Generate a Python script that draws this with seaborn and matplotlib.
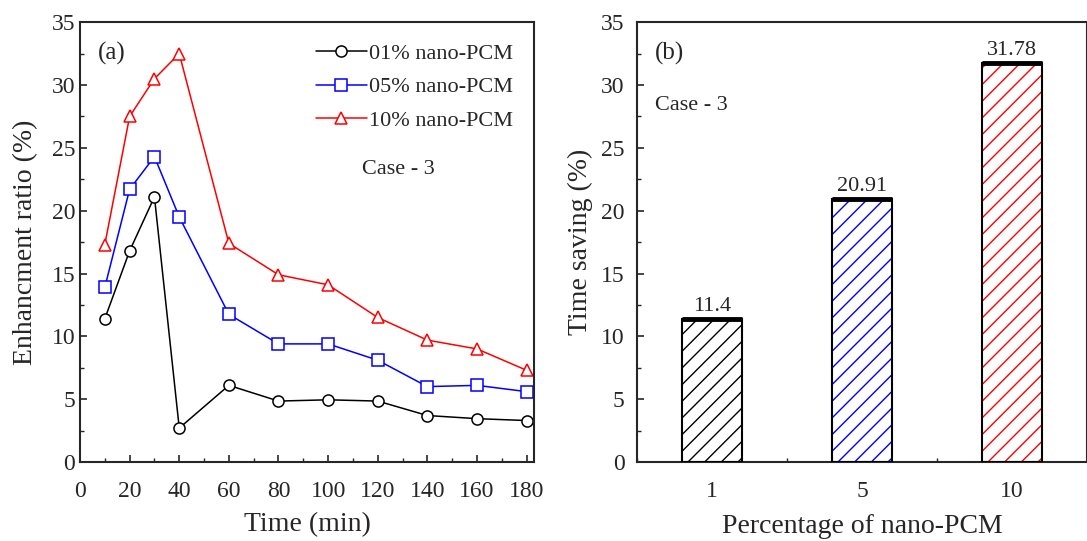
import numpy as np
import pandas as pd
import seaborn as sns
import matplotlib.pyplot as plt
from matplotlib.ticker import MultipleLocator
from matplotlib.patches import Rectangle

# panel (a) data
time_min = [10, 20, 30, 40, 60, 80, 100, 120, 140, 160, 180]
ratio_01 = [11.4, 16.8, 21.1, 2.7, 6.1, 4.85, 4.95, 4.85, 3.7, 3.45, 3.3]
ratio_05 = [13.9, 21.7, 24.3, 19.5, 11.75, 9.4, 9.4, 8.1, 6.0, 6.1, 5.6]
ratio_10 = [17.3, 27.5, 30.5, 32.5, 17.4, 14.9, 14.1, 11.5, 9.7, 9.0, 7.3]
series_labels = ["01% nano-PCM", "05% nano-PCM", "10% nano-PCM"]

# panel (b) data
pct_labels = ["1", "5", "10"]
time_saving = [11.4, 20.91, 31.78]

colors = ["black", "blue", "red"]
markers = ["o", "s", "^"]

sns.set_style("ticks")
plt.rcParams["font.family"] = ["Liberation Serif", "DejaVu Serif"]
plt.rcParams["xtick.direction"] = "in"
plt.rcParams["ytick.direction"] = "in"
plt.rcParams["hatch.linewidth"] = 1.0

fig = plt.figure(figsize=(10.87, 5.41), dpi=100)
ax1 = fig.add_axes([0.0736, 0.146, 0.4177, 0.813])
ax2 = fig.add_axes([0.586, 0.146, 0.414, 0.813])

# ---- (a) line chart
for vals, lab, c, m in zip([ratio_01, ratio_05, ratio_10], series_labels, colors, markers):
    sns.lineplot(x=time_min, y=vals, ax=ax1, color=c, marker=m,
                 markersize=9 if m == "^" else 8,
                 markerfacecolor="white", markeredgecolor=c, markeredgewidth=1.1,
                 linewidth=1.1, label=lab)

ax1.set_xlim(0, 183)
ax1.set_ylim(0, 35)
ax1.xaxis.set_major_locator(MultipleLocator(20))
ax1.xaxis.set_minor_locator(MultipleLocator(10))
ax1.yaxis.set_major_locator(MultipleLocator(5))
ax1.yaxis.set_minor_locator(MultipleLocator(2.5))
ax1.tick_params(labelsize=17, length=5, width=1.2)
ax1.tick_params(axis="x", pad=14)
ax1.tick_params(which="minor", length=3, width=1.0)
ax1.set_xlabel("Time (min)", fontsize=20, labelpad=7)
ax1.set_ylabel("Enhancment ratio (%)", fontsize=20, labelpad=10)
ax1.legend(loc="upper right", bbox_to_anchor=(1.0, 1.0), frameon=False, fontsize=16,
           handlelength=2.3, handletextpad=0.1, labelspacing=0.58, borderaxespad=0.55)
ax1.text(0.04, 0.93, "(a)", transform=ax1.transAxes, fontsize=18, va="center")
ax1.text(0.62, 0.665, "Case - 3", transform=ax1.transAxes, fontsize=16, va="center")

# ---- (b) bar chart
df = pd.DataFrame({"pct": pct_labels, "saving": time_saving})
sns.barplot(data=df, x="pct", y="saving", hue="pct", order=pct_labels,
            palette=colors, legend=False, width=0.4, ax=ax2)
for p, c in zip(ax2.patches, colors):
    p.set_facecolor("white")
    p.set_edgecolor(c)
    p.set_hatch("//")
    p.set_linewidth(0)
    ax2.add_patch(Rectangle(p.get_xy(), p.get_width(), p.get_height(),
                            fill=False, edgecolor="black", linewidth=1.5, zorder=3))
    ax2.plot([p.get_x(), p.get_x() + p.get_width()], [p.get_height()] * 2,
             color="black", linewidth=3.5, solid_capstyle="butt", zorder=4)
for cont in ax2.containers:
    ax2.bar_label(cont, fmt="%g", fontsize=16, padding=2)

ax2.set_xlim(-0.5, 2.5)
ax2.set_ylim(0, 35)
ax2.xaxis.set_minor_locator(MultipleLocator(0.5))
ax2.yaxis.set_major_locator(MultipleLocator(5))
ax2.yaxis.set_minor_locator(MultipleLocator(2.5))
ax2.tick_params(labelsize=17, length=5, width=1.2)
ax2.tick_params(axis="x", pad=14)
ax2.tick_params(axis="y", pad=9)
ax2.tick_params(which="minor", length=3, width=1.0)
ax2.set_xlabel("Percentage of nano-PCM", fontsize=20, labelpad=8)
ax2.set_ylabel("Time saving (%)", fontsize=20, labelpad=6)
ax2.text(0.04, 0.93, "(b)", transform=ax2.transAxes, fontsize=18, va="center")
ax2.text(0.04, 0.81, "Case - 3", transform=ax2.transAxes, fontsize=16, va="center")

for ax in (ax1, ax2):
    for s in ax.spines.values():
        s.set_linewidth(1.5)
        s.set_visible(True)

fig.savefig("out.png", dpi=100)
